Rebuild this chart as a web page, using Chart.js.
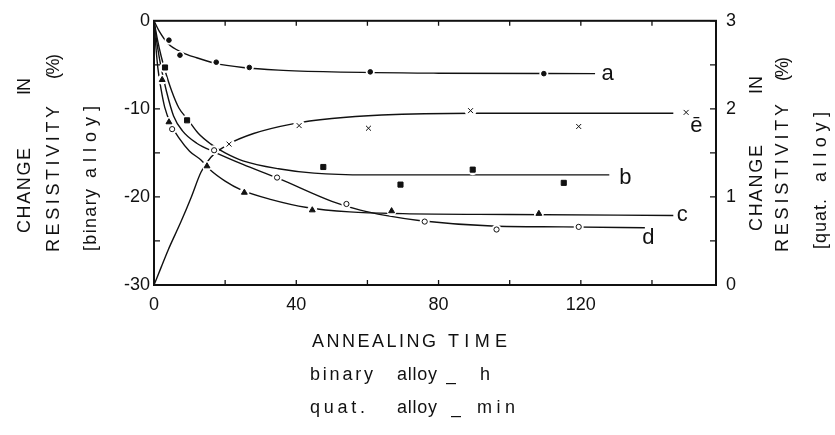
<!DOCTYPE html>
<html>
<head>
<meta charset="utf-8">
<script src="https://cdn.jsdelivr.net/npm/chart.js@4/dist/chart.umd.min.js"></script>
<style>
  html, body { margin: 0; padding: 0; background: #fff; }
  #wrap { width: 835px; height: 435px; }
</style>
</head>
<body>
<div id="wrap"><canvas id="chart" width="835" height="435"></canvas></div>
<script>
// axis ranges and tick labels
const xTickLabels = [0, 40, 80, 120];
const leftTickLabels = [0, -10, -20, -30];
const rightTickLabels = [0, 1, 2, 3];

// measured points (annealing time, change in resistivity %)
const aTime = [4.2, 7.3, 17.5, 26.8, 60.8, 109.6];
const aVal = [-2.2, -3.9, -4.7, -5.3, -5.8, -6.0];
const bTime = [3.1, 9.3, 47.6, 69.3, 89.6, 115.2];
const bVal = [-5.3, -11.3, -16.6, -18.6, -16.9, -18.4];
const cTime = [2.3, 4.2, 14.9, 25.4, 44.5, 66.8, 108.2];
const cVal = [-6.7, -11.5, -16.5, -19.5, -21.5, -21.6, -21.9];
const dTime = [5.1, 16.9, 34.6, 54.1, 76.1, 96.3, 119.4];
const dVal = [-12.3, -14.7, -17.8, -20.8, -22.8, -23.7, -23.4];
// quaternary alloy, right axis
const eTime = [21.1, 40.8, 60.3, 89, 119.4, 149.6];
const eVal = [1.60, 1.81, 1.78, 1.98, 1.80, 1.96];

// hand drawn curves
const aCurveT = [0, 1.5, 4, 8, 12, 17, 25, 35, 50, 80, 124];
const aCurveV = [0, -1.2, -2.6, -3.6, -4.2, -4.8, -5.3, -5.6, -5.8, -5.95, -6.0];
const bCurveT = [0, 1, 2, 3, 5, 7, 9.5, 12.5, 16, 20, 25, 35, 45, 60, 90, 128];
const bCurveV = [0, -2.2, -4, -5.5, -8, -9.9, -11.2, -12.8, -14, -15, -15.9, -16.8, -17.3, -17.5, -17.5, -17.5];
const cCurveT = [0, 0.5, 1.1, 2, 3, 4.8, 7, 10, 13.2, 16, 20, 24.5, 33, 43, 55, 70, 100, 146];
const cCurveV = [0, -2.8, -5.4, -7.8, -9.8, -11.8, -13.3, -14.8, -15.8, -17, -18.2, -19.2, -20.3, -21.2, -21.7, -21.9, -22, -22.1];
const dCurveT = [0, 1, 2, 3.5, 5.5, 8, 12, 17, 25, 35, 50, 58, 65, 75, 95, 115, 138];
const dCurveV = [0, -3, -5.3, -8, -10.8, -12.5, -13.9, -14.9, -16.3, -17.9, -20.5, -21.5, -22.1, -22.7, -23.3, -23.4, -23.5];
const eCurveT = [0, 2, 3.9, 7.6, 10.5, 13.2, 16, 21, 28, 39, 50, 64, 90, 146];
const eCurveV = [0, 0.2, 0.39, 0.72, 1.0, 1.28, 1.45, 1.6, 1.72, 1.83, 1.89, 1.93, 1.95, 1.95];

// curve letters: name, time, value, axis
const curveNames = ['a', 'b', 'c', 'd', 'ē'];
const nameTime = [127.5, 132.5, 148.5, 139, 152.5];
const nameVal = [-6.05, -17.8, -22.1, -24.6, 1.81];
const nameAxis = ['y', 'y', 'y', 'y', 'y2'];

const FONT = '"Liberation Sans", Arial, Helvetica, sans-serif';
const INK = '#111';

const pts = (t, v) => t.map((x, i) => ({ x: x, y: v[i] }));

function curve(t, v, axis) {
  return {
    data: pts(t, v),
    yAxisID: axis,
    showLine: true,
    pointRadius: 0,
    borderColor: INK,
    borderWidth: 1.4,
    cubicInterpolationMode: 'monotone',
    order: 3
  };
}

// white patch under each symbol, so the pen lines break round the marks
function halo(t, v, axis, r) {
  return {
    data: pts(t, v),
    yAxisID: axis,
    showLine: false,
    pointStyle: 'circle',
    pointRadius: r,
    pointBackgroundColor: '#fff',
    pointBorderWidth: 0,
    order: 2
  };
}

function marks(t, v, axis, style, r, fill) {
  return {
    data: pts(t, v),
    yAxisID: axis,
    showLine: false,
    pointStyle: style,
    pointRadius: r,
    pointBackgroundColor: fill,
    pointBorderColor: INK,
    pointBorderWidth: 1,
    order: 1
  };
}

// draw text stretched to a given length, optionally rotated to read upwards
function spaced(ctx, text, x, y, len, up) {
  ctx.save();
  ctx.translate(x, y);
  if (up) ctx.rotate(-Math.PI / 2);
  ctx.letterSpacing = '0px';
  const w = ctx.measureText(text).width;
  const sp = text.length > 1 ? (len - w) / (text.length - 1) : 0;
  ctx.letterSpacing = sp + 'px';
  ctx.fillText(text, 0, 0);
  ctx.restore();
}

const frame = {
  id: 'frame',
  afterDatasetsDraw(chart) {
    const ctx = chart.ctx;
    const a = chart.chartArea;
    const sx = chart.scales.x, sy = chart.scales.y, sy2 = chart.scales.y2;
    ctx.save();
    ctx.strokeStyle = INK;
    ctx.lineWidth = 2;
    ctx.strokeRect(a.left, a.top, a.right - a.left, a.bottom - a.top);

    // inward tick marks
    ctx.lineWidth = 1.3;
    ctx.beginPath();
    sx.ticks.forEach(t => {
      if (t.value % 20 !== 0 || t.value === 0) return;
      const px = sx.getPixelForValue(t.value);
      ctx.moveTo(px, a.bottom); ctx.lineTo(px, a.bottom - 5);
      ctx.moveTo(px, a.top); ctx.lineTo(px, a.top + 5);
    });
    sy.ticks.forEach(t => {
      const py = sy.getPixelForValue(t.value);
      ctx.moveTo(a.left, py); ctx.lineTo(a.left + 6, py);
    });
    sy2.ticks.forEach(t => {
      const py = sy2.getPixelForValue(t.value);
      ctx.moveTo(a.right, py); ctx.lineTo(a.right - 6, py);
    });
    ctx.stroke();

    // curve letters
    ctx.fillStyle = INK;
    ctx.font = '22px ' + FONT;
    ctx.textAlign = 'center';
    ctx.textBaseline = 'middle';
    curveNames.forEach((n, i) => {
      const s = chart.scales[nameAxis[i]];
      ctx.fillText(n, sx.getPixelForValue(nameTime[i]), s.getPixelForValue(nameVal[i]));
    });

    // axis titles
    ctx.textAlign = 'left';
    ctx.textBaseline = 'alphabetic';
    ctx.font = '18px ' + FONT;
    spaced(ctx, 'CHANGE', 30, 233, 85, true);
    spaced(ctx, 'IN', 30, 95, 17, true);
    spaced(ctx, 'RESISTIVITY', 59, 252, 146, true);
    spaced(ctx, '(%)', 59, 79, 25, true);
    spaced(ctx, '[binary', 96, 251, 62, true);
    spaced(ctx, 'alloy]', 96, 178, 72, true);

    spaced(ctx, 'CHANGE', 762, 231, 86, true);
    spaced(ctx, 'IN', 762, 94, 18, true);
    spaced(ctx, 'RESISTIVITY', 788, 252, 148, true);
    spaced(ctx, '(%)', 788, 81, 24, true);
    spaced(ctx, '[quat.', 826, 249, 50, true);
    spaced(ctx, 'alloy]', 826, 182, 70, true);

    spaced(ctx, 'ANNEALING', 312, 347, 124, false);
    spaced(ctx, 'TIME', 448, 347, 59, false);
    spaced(ctx, 'binary', 310, 380, 63, false);
    spaced(ctx, 'alloy', 397, 380, 40, false);
    spaced(ctx, '–', 446, 388, 8, false);
    spaced(ctx, 'h', 480, 380, 10, false);
    spaced(ctx, 'quat.', 310, 413, 55, false);
    spaced(ctx, 'alloy', 397, 413, 40, false);
    spaced(ctx, '–', 451, 421, 8, false);
    spaced(ctx, 'min', 477, 413, 38, false);
    ctx.restore();
  }
};

const tickFont = { family: FONT, size: 18 };

new Chart(document.getElementById('chart'), {
  type: 'scatter',
  data: {
    datasets: [
      curve(aCurveT, aCurveV, 'y'),
      curve(bCurveT, bCurveV, 'y'),
      curve(cCurveT, cCurveV, 'y'),
      curve(dCurveT, dCurveV, 'y'),
      curve(eCurveT, eCurveV, 'y2'),
      halo(aTime, aVal, 'y', 4.5),
      halo(bTime, bVal, 'y', 5.5),
      halo(cTime, cVal, 'y', 5),
      halo(dTime, dVal, 'y', 5),
      halo(eTime, eVal, 'y2', 6),
      marks(aTime, aVal, 'y', 'circle', 2.3, INK),
      marks(bTime, bVal, 'y', 'rect', 3.6, INK),
      marks(cTime, cVal, 'y', 'triangle', 3.4, INK),
      marks(dTime, dVal, 'y', 'circle', 2.6, '#fff'),
      marks(eTime, eVal, 'y2', 'crossRot', 3.5, INK)
    ]
  },
  options: {
    responsive: false,
    animation: false,
    layout: { padding: { left: 114, right: 79, top: 17, bottom: 120 } },
    plugins: { legend: { display: false }, tooltip: { enabled: false } },
    scales: {
      x: {
        type: 'linear', min: 0, max: 158,
        afterFit: s => { s.height = 30; },
        grid: { display: false, drawTicks: false },
        border: { display: false },
        ticks: {
          stepSize: 20, autoSkip: false, maxRotation: 0, padding: 9,
          font: tickFont, color: INK,
          callback: v => xTickLabels.includes(v) ? String(v) : ''
        }
      },
      y: {
        position: 'left', min: -30, max: 0,
        afterFit: s => { s.width = 40; },
        grid: { display: false, drawTicks: false },
        border: { display: false },
        ticks: {
          stepSize: 5, padding: 4, font: tickFont, color: INK,
          callback: v => leftTickLabels.includes(v) ? String(v) : ''
        }
      },
      y2: {
        position: 'right', min: 0, max: 3,
        afterFit: s => { s.width = 40; },
        grid: { display: false, drawTicks: false },
        border: { display: false },
        ticks: {
          stepSize: 0.5, padding: 10, font: tickFont, color: INK,
          callback: v => rightTickLabels.includes(v) ? String(v) : ''
        }
      }
    }
  },
  plugins: [frame]
});
</script>
</body>
</html>
